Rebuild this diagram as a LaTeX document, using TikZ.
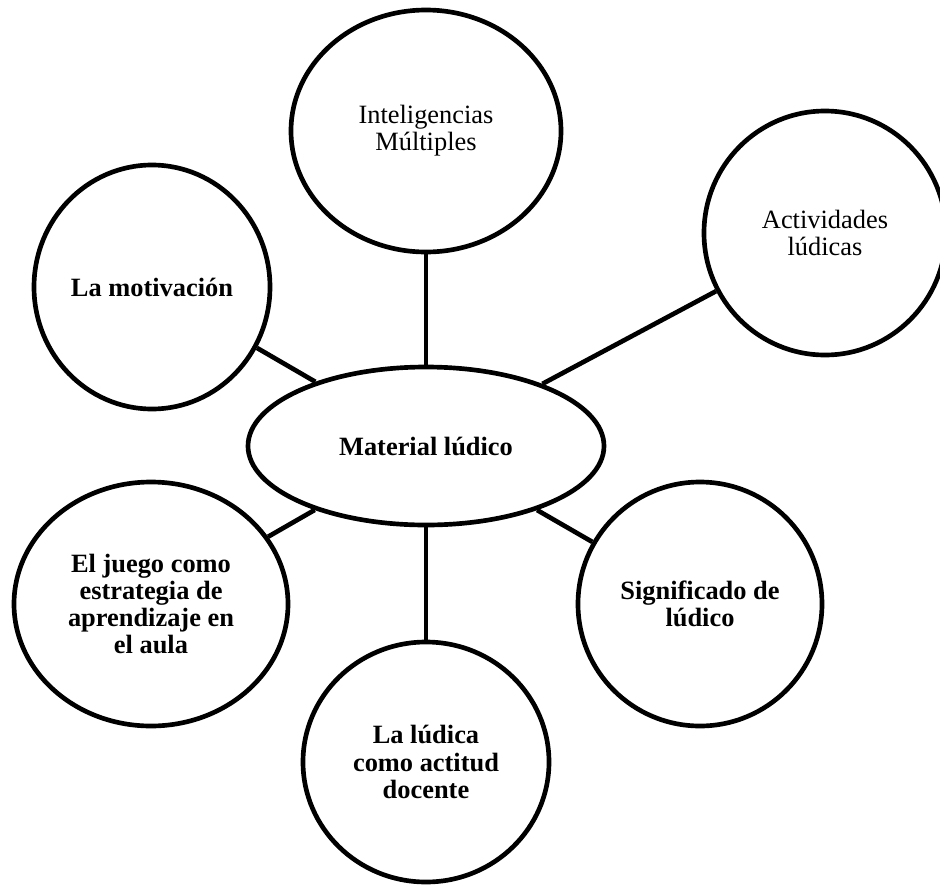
\documentclass[tikz,border=0pt]{standalone}
\usepackage{fontspec}
\setmainfont{Liberation Serif}
\usetikzlibrary{shapes.geometric}

\begin{document}
\begin{tikzpicture}[x=0.75pt, y=-0.75pt,
		bubble/.style={draw, ellipse, line width=3.5pt, inner sep=0pt, align=center, font=\fontsize{19.8}{20.3}\selectfont},
		link/.style={line width=3.5pt}]
		\useasboundingbox (0,0) rectangle (940,886);
		\node[bubble, minimum width=267pt, minimum height=118.5pt, font=\fontsize{19.8}{20.3}\selectfont\bfseries] (mat) at (426,446) {Material lúdico};
		\node[bubble, minimum width=202.5pt, minimum height=181.5pt] (intel) at (426,131) {Inteligencias\\Múltiples};
		\node[bubble, minimum width=181.5pt, minimum height=183pt] (activ) at (825,233) {Actividades\\lúdicas};
		\node[bubble, minimum width=177pt, minimum height=183pt, font=\fontsize{19.8}{20.3}\selectfont\bfseries] (motiv) at (152,287) {La motivación};
		\node[bubble, minimum width=205.5pt, minimum height=183pt, font=\fontsize{19.8}{20.3}\selectfont\bfseries] (juego) at (151,604) {El juego como\\estrategia de\\aprendizaje en\\el aula};
		\node[bubble, minimum width=183pt, minimum height=183pt, font=\fontsize{19.8}{20.3}\selectfont\bfseries] (signif) at (700,604) {Significado de\\lúdico};
		\node[bubble, minimum width=184.5pt, minimum height=180pt, font=\fontsize{19.8}{20.3}\selectfont\bfseries] (actit) at (426,762) {La lúdica\\como actitud\\docente};
		\draw[link] (mat) -- (intel);
		\draw[link] (mat) -- (activ);
		\draw[link] (mat) -- (motiv);
		\draw[link] (mat) -- (juego);
		\draw[link] (mat) -- (signif);
		\draw[link] (mat) -- (actit);
	\end{tikzpicture}
\end{document}
